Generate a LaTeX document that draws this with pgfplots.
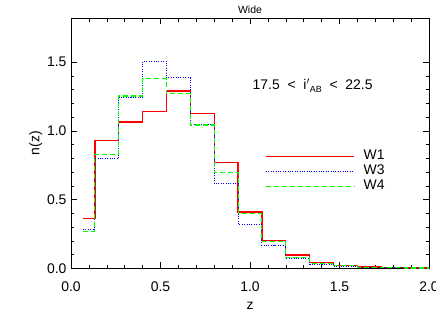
\documentclass[border=0pt]{standalone}
\usepackage{pgfplots}
\pgfplotsset{compat=1.18}
\usepackage{fontspec}
\setmainfont{Liberation Sans}
\begin{document}
\begin{tikzpicture}
\useasboundingbox (-71bp,-43.7bp) rectangle (365bp,268.3bp);
\begin{axis}[
  at={(0,0)}, anchor=south west,
  scale only axis, width=358bp, height=250bp,
  xmin=0, xmax=2, ymin=0, ymax=1.82,
  xtick={0,0.5,...,2}, ytick={0,0.5,1,1.5},
  minor x tick num=4, minor y tick num=4,
  tick align=inside, major tick length=6bp, minor tick length=3.5bp,
  tick style={black, line width=0.6pt},
  axis line style={line width=0.7pt},
  /pgf/number format/fixed, /pgf/number format/fixed zerofill, /pgf/number format/precision=1,
  /pgf/number format/assume math mode=true,
  ticklabel style={font=\fontsize{14}{16}\selectfont},
  xticklabel style={yshift=-10bp},
  yticklabel style={xshift=-1bp},
  xlabel={z}, ylabel={n(z)},
  label style={font=\fontsize{14}{16}\selectfont},
  xlabel style={yshift=-4bp},
  ylabel style={yshift=-2bp},
  title={Wide}, title style={font=\fontsize{10.5}{12}\selectfont, yshift=-5bp},
  legend style={at={(axis cs:1.085,0.865)}, anchor=north west, draw=none, fill=none,
    inner sep=0pt, row sep=2bp, font=\fontsize{14}{15.5}\selectfont,
    nodes={inner xsep=4bp, inner ysep=0bp, text height=10bp, text depth=3bp},
    /tikz/every odd column/.append style={column sep=5bp}},
  legend cell align=left,
  legend image code/.code={\draw[#1] (0bp,0bp) -- (88bp,0bp);},
  clip=false,
]
\addplot[const plot mark mid, red, line width=1.3pt] coordinates {
(0.0667,0.36) (0.2,0.93) (0.3333,1.065) (0.4667,1.14) (0.6,1.29) (0.7333,1.125)
(0.8667,0.77) (1.0,0.41) (1.1333,0.20) (1.2667,0.097) (1.4,0.04) (1.5333,0.02)
(1.6667,0.01) (1.8,0.005) (1.9333,0.003) (2.0,0.003)};
\addlegendentry{W1}
\addplot[const plot mark mid, blue, line width=1.0pt, dash pattern=on 0.8pt off 1.6pt] coordinates {
(0.0667,0.28) (0.2,0.80) (0.3333,1.24) (0.4667,1.506) (0.6,1.387) (0.7333,1.048)
(0.8667,0.62) (1.0,0.32) (1.1333,0.165) (1.2667,0.07) (1.4,0.03) (1.5333,0.015)
(1.6667,0.008) (1.8,0.004) (1.9333,0.002) (2.0,0.002)};
\addlegendentry{W3}
\addplot[const plot mark mid, green, line width=1.1pt, dash pattern=on 5pt off 3pt] coordinates {
(0.0667,0.27) (0.2,0.83) (0.3333,1.254) (0.4667,1.38) (0.6,1.27) (0.7333,1.043)
(0.8667,0.70) (1.0,0.40) (1.1333,0.196) (1.2667,0.077) (1.4,0.035) (1.5333,0.018)
(1.6667,0.008) (1.8,0.004) (1.9333,0.002) (2.0,0.002)};
\addlegendentry{W4}
\node[font=\fontsize{14}{16}\selectfont] at (axis cs:1.35,1.33) {17.5 \;<\; i$'$\raisebox{-0.35ex}{\fontsize{9}{10}\selectfont AB} \;<\; 22.5};
\end{axis}
\end{tikzpicture}
\end{document}
